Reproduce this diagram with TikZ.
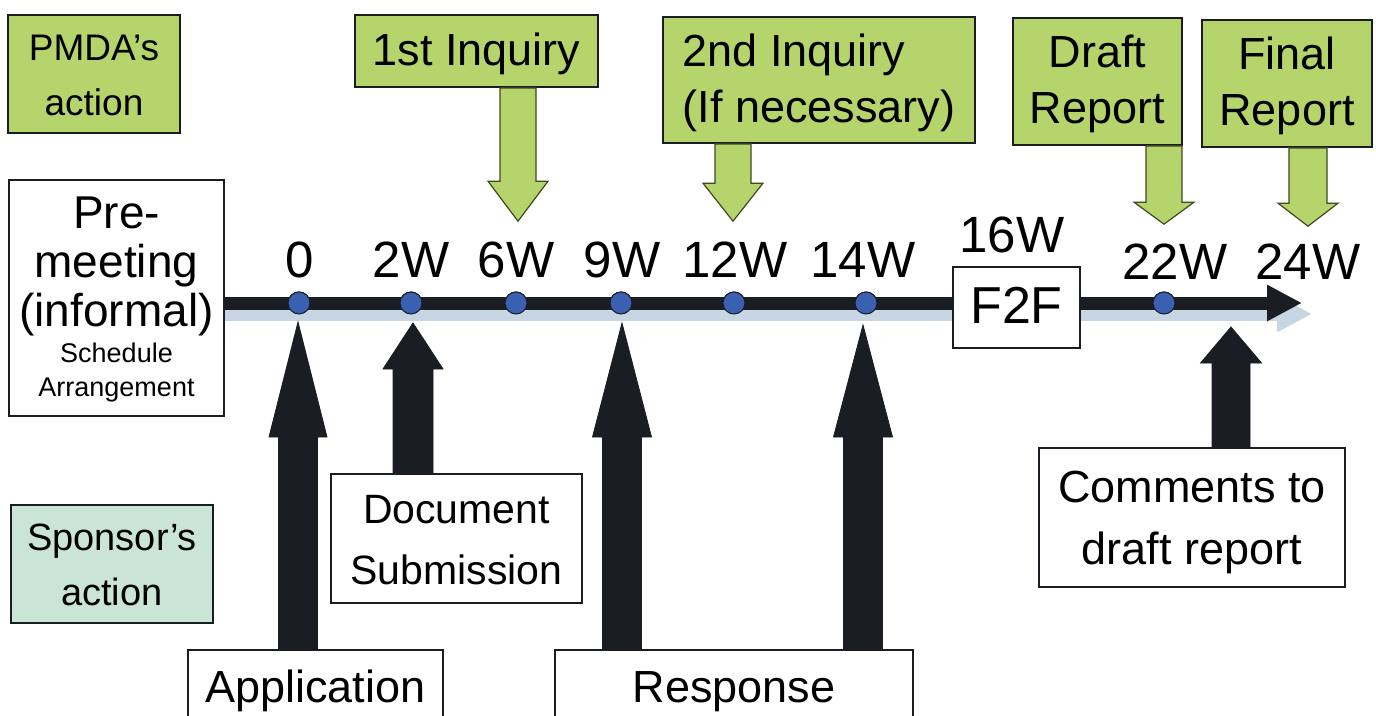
\documentclass[tikz,border=0pt]{standalone}
\usepackage{fontspec}
\setmainfont{Liberation Sans}
\usetikzlibrary{calc,arrows.meta}

\definecolor{leaf}{RGB}{182,212,108}
\definecolor{mint}{RGB}{202,229,214}
\definecolor{ink}{RGB}{26,30,36}
\definecolor{olive}{RGB}{62,74,32}
\definecolor{dotblue}{RGB}{58,96,178}
\definecolor{haze}{RGB}{200,213,226}

% strut spanning one baselineskip of the current font
\newcommand\linestrut{\rule[-0.25\baselineskip]{0pt}{\baselineskip}}

% block arrow: style, base point, tip point, half shaft width, half head width, head length
\newcommand\blockarrow[6]{%
  \coordinate (hb) at ($(#3)!#6!(#2)$);
  \draw[#1] ($(#2)!#4!90:(#3)$) -- ($(hb)!#4!90:(#3)$) -- ($(hb)!#5!90:(#3)$)
    -- (#3) -- ($(hb)!#5!-90:(#3)$) -- ($(hb)!#4!-90:(#3)$)
    -- ($(#2)!#4!-90:(#3)$) -- cycle;}

\begin{document}
\begin{tikzpicture}[x=1pt,y=-1pt,
  box/.style={draw=ink, line width=1.8pt, align=center, inner sep=0pt, text=black},
  leafbox/.style={box, fill=leaf},
  mintbox/.style={box, fill=mint},
  paperbox/.style={box, fill=white},
  wk/.style={anchor=base, inner sep=0pt, font=\fontsize{51}{60}\selectfont},
  dot/.style={circle, minimum size=22pt, inner sep=0pt, fill=dotblue, draw=ink, line width=1pt},
  leafarrow/.style={fill=leaf, draw=olive, line width=1.2pt, line join=miter},
  inkarrow/.style={fill=ink, draw=ink, line width=0.8pt, line join=miter},
]
\useasboundingbox (0,0) rectangle (1376,715);
\clip (0,0) rectangle (1376,715);
\fill[white] (0,0) rectangle (1376,715);

% ---- lane labels
\node[leafbox, minimum width=172pt, minimum height=118pt, font=\fontsize{37}{55}\selectfont]
  (pmda) at (94,74) {\linestrut PMDA’s\\\linestrut action};
\node[mintbox, minimum width=202pt, minimum height=118pt, font=\fontsize{38}{55}\selectfont]
  (sponsor) at (112,564) {\linestrut Sponsor’s\\\linestrut action};

% ---- pre-meeting
\node[paperbox, minimum width=215pt, minimum height=236pt, font=\fontsize{46}{49}\selectfont]
  (pre) at (116.5,298) {\linestrut Pre-\\\linestrut meeting\\\linestrut (informal)\\[-13pt]
  {\fontsize{27}{34}\selectfont\linestrut Schedule}\\[-15pt]
  {\fontsize{27}{34}\selectfont\linestrut Arrangement}};

% ---- time points
\node[dot] (d0)  at (299,303) {};
\node[dot] (d2)  at (411,303) {};
\node[dot] (d6)  at (516,303) {};
\node[dot] (d9)  at (621,303) {};
\node[dot] (d12) at (734,303) {};
\node[dot] (d14) at (866,303) {};
\node[dot] (d22) at (1164,303) {};

% ---- timeline bar with its soft shadow
\coordinate (tl0) at (pre.east |- d0);
\coordinate (tlend) at (1302,303);
\draw[haze, line width=13pt, -{Triangle[length=35pt,width=34pt]}]
  ([yshift=-11pt]tl0) -- ([shift={(10,11)}]tlend);
\draw[ink, line width=13pt, -{Triangle[length=35pt,width=34pt]}] (tl0) -- (tlend);

% redraw the points above the bar
\foreach \p in {d0,d2,d6,d9,d12,d14,d22}
  \fill[dotblue, draw=ink, line width=1pt] (\p) circle (11pt);

\node[paperbox, minimum width=127pt, minimum height=81pt, font=\fontsize{52}{62}\selectfont]
  (f2f) at (1016.5,307.5) {\linestrut F2F};

% ---- week labels
\node[wk] (l0)  at (300,277) {0};
\node[wk] (l2)  at (411,277) {2W};
\node[wk] (l6)  at (516,277) {6W};
\node[wk] (l9)  at (622,277) {9W};
\node[wk] (l12) at (735,277) {12W};
\node[wk] (l14) at (863,277) {14W};
\node[wk] (l16) at (1012,252) {16W};
\node[wk] (l22) at (1175,279) {22W};
\node[wk] (l24) at (1308,279) {24W};

% ---- PMDA actions
\node[leafbox, minimum width=243pt, minimum height=72pt, font=\fontsize{45}{56}\selectfont]
  (inq1) at (476.5,51) {\linestrut 1st Inquiry};
\node[leafbox, minimum width=312pt, minimum height=126pt, align=left, font=\fontsize{45}{56}\selectfont]
  (inq2) at (819,80) {\linestrut 2nd Inquiry\\\linestrut (If necessary)};
\node[leafbox, minimum width=169pt, minimum height=127pt, font=\fontsize{45}{56}\selectfont]
  (draft) at (1097.5,81.5) {\linestrut Draft\\\linestrut Report};
\node[leafbox, minimum width=170pt, minimum height=127pt, font=\fontsize{45}{56}\selectfont]
  (final) at (1287,83.5) {\linestrut Final\\\linestrut Report};

\coordinate (t6)  at ($(l6.north)+(2,-20)$);
\coordinate (t12) at ($(l12.north)+(-2,-20)$);
\coordinate (t22) at ($(d22 |- l22.north)+(0,-19)$);
\coordinate (t24) at ($(l24.north)+(0,-17)$);

\blockarrow{leafarrow}{t6 |- inq1.south}{t6}{18pt}{30pt}{40pt}
\blockarrow{leafarrow}{t12 |- inq2.south}{t12}{18pt}{30pt}{38pt}
\blockarrow{leafarrow}{t22 |- draft.south}{t22}{18pt}{30pt}{22pt}
\blockarrow{leafarrow}{t24 |- final.south}{t24}{19pt}{30pt}{23pt}

% ---- sponsor actions
\node[paperbox, minimum width=251pt, minimum height=129pt, font=\fontsize{41}{61}\selectfont]
  (doc) at (456.5,538.5) {\linestrut Document\\\linestrut Submission};
\node[paperbox, minimum width=255pt, minimum height=76pt, font=\fontsize{45}{56}\selectfont]
  (app) at (315.5,688) {\linestrut Application};
\node[paperbox, minimum width=358pt, minimum height=76pt, font=\fontsize{45}{56}\selectfont]
  (resp) at (734,688) {\linestrut Response};
\node[paperbox, minimum width=306pt, minimum height=139pt, font=\fontsize{45}{62}\selectfont]
  (comm) at (1192,517.5) {\linestrut Comments to\\\linestrut draft report};

\coordinate (u0)  at ($(d0)+(-1,19)$);
\coordinate (u2)  at ($(d2)+(2,20)$);
\coordinate (u9)  at ($(d9)+(1,20)$);
\coordinate (u14) at ($(d14)+(-3,22)$);
\coordinate (uc)  at ($(d22)+(67,24)$);

\blockarrow{inkarrow}{u0 |- app.north}{u0}{19.5pt}{29pt}{115pt}
\blockarrow{inkarrow}{u2 |- doc.north}{u2}{20pt}{30pt}{46pt}
\blockarrow{inkarrow}{u9 |- resp.north}{u9}{19.5pt}{29.5pt}{114pt}
\blockarrow{inkarrow}{u14 |- resp.north}{u14}{19.5pt}{29.5pt}{112pt}
\blockarrow{inkarrow}{uc |- comm.north}{uc}{19pt}{30.5pt}{36pt}

\end{tikzpicture}
\end{document}
